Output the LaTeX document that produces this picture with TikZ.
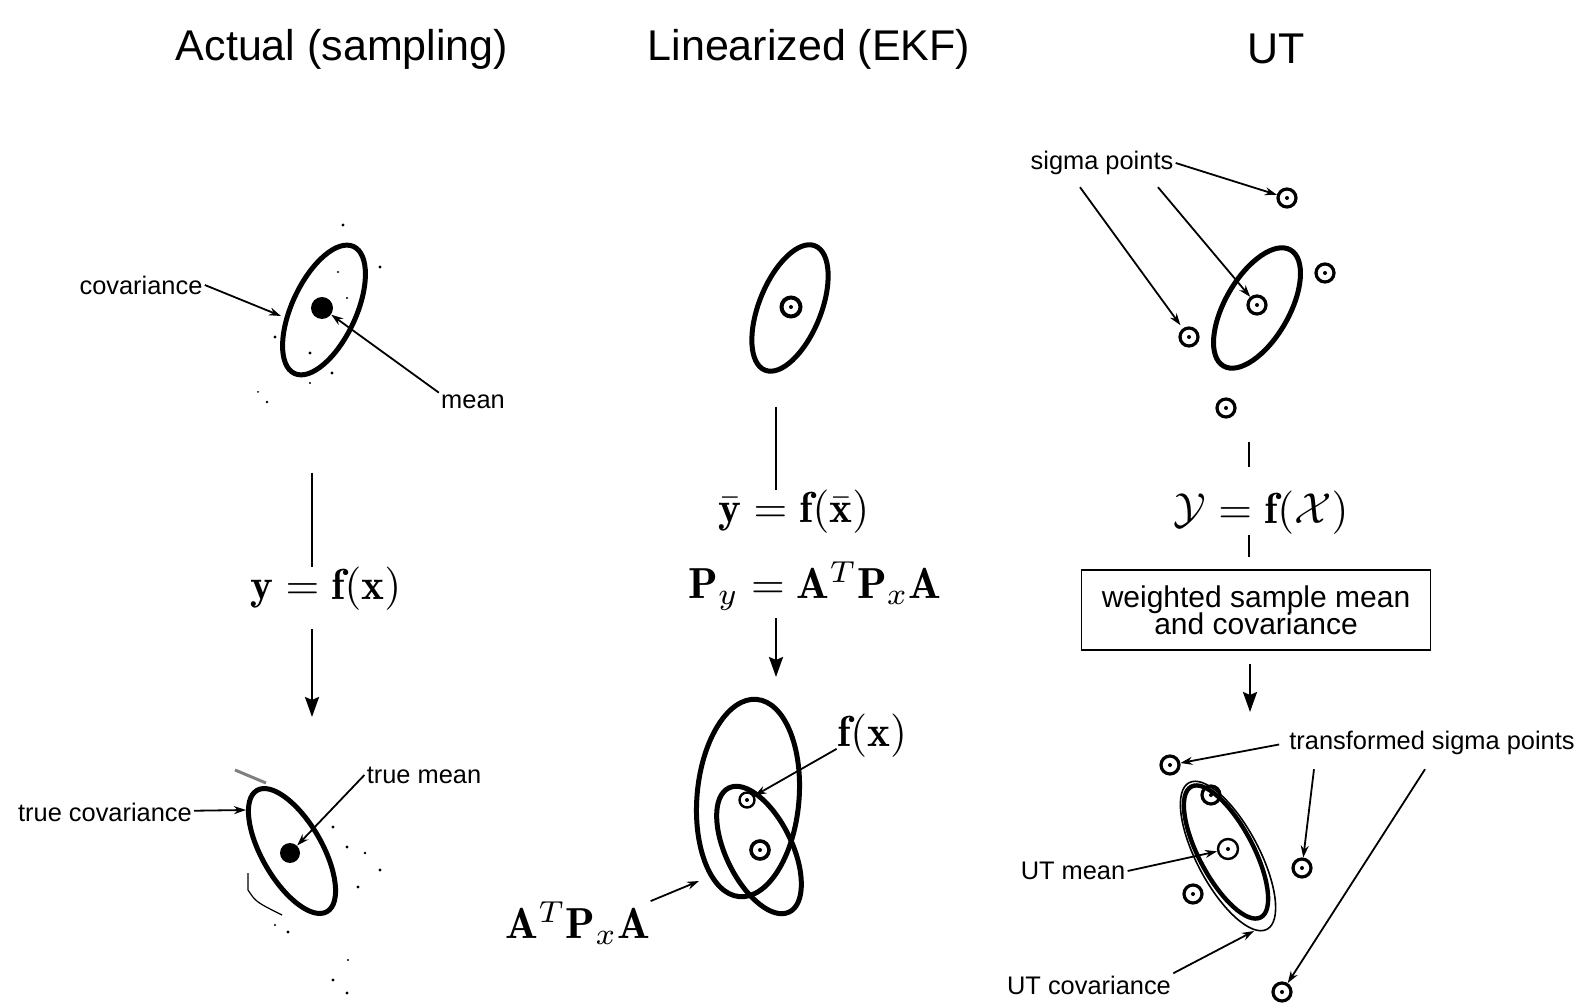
\RequirePackage{fix-cm}
\documentclass[tikz,border=0pt]{standalone}
\usepackage{amsmath,amssymb}
\usepackage{fontspec}
\usepackage{tikz}
\usetikzlibrary{arrows.meta}
\newfontfamily\helv{Liberation Sans}
\newcommand{\ttlf}{\helv\fontsize{21.5}{26}\selectfont}
\newcommand{\lblf}{\helv\fontsize{12.7}{15}\selectfont}
\newcommand{\boxf}{\helv\fontsize{15}{12.5}\selectfont}
\newcommand{\eqs}[1]{\scalebox{2.17}{$#1$}}

\begin{document}
\begin{tikzpicture}[x=0.5pt,y=-0.5pt,>={Stealth[length=6pt,width=4pt]},
cov/.style={line width=2.5pt},
ann/.style={->,line width=0.9pt},
flow/.style={-{Stealth[length=10pt,width=7pt,inset=1.5pt]},line width=1.2pt},
sigpt/.style={circle,draw,line width=1.6pt,minimum size=9pt,inner sep=0pt,
  path picture={\fill (path picture bounding box.center) circle (1pt);}},
meandot/.style={circle,fill,minimum size=11pt,inner sep=0pt},
lab/.style={font=\lblf,inner sep=1pt},
eqn/.style={inner sep=0pt}]
\useasboundingbox (0,0) rectangle (1579,1004);

\node[font=\ttlf] (actual) at (342,49) {Actual (sampling)};
\node[font=\ttlf] (linear) at (809,49) {Linearized (EKF)};
\node[font=\ttlf] (ut) at (1276,49) {UT};

% actual
\draw[cov,rotate around={65:(324,310)}] (324,310) ellipse [x radius=70,y radius=32];
\node[meandot] (m1) at (322,308) {};
\node[lab] (cov1) at (141,285) {covariance};
\coordinate (c1) at (281,316);
\draw[ann] (cov1.east) -- (c1);
\node[lab] (mean1) at (473,402) {mean};
\draw[ann] (mean1.north west) -- (m1);
\fill (343,225) circle (0.8pt) (380,267) circle (0.8pt) (338,272) circle (0.6pt)
(310,353) circle (0.8pt) (332,373) circle (0.8pt) (310,383) circle (0.6pt)
(267,402) circle (0.7pt) (258,392) circle (0.5pt) (275,337) circle (0.8pt)
(347,298) circle (0.6pt);
\coordinate (top1) at (312,473);
\node[eqn] (eq1) at (326,589) {\eqs{\mathbf{y}=\mathbf{f}(\mathbf{x})}};
\coordinate (bot1) at (312,717);
\draw[line width=1.2pt] (top1) -- (top1 |- eq1.north);
\draw[flow,shorten <=9pt] (top1 |- eq1.south) -- (bot1);
\draw[cov,rotate around={-60:(292,851)}] (292,851) ellipse [x radius=70,y radius=30];
\node[meandot,minimum size=10pt] (m4) at (290,853) {};
\node[lab] (tcov) at (105,812) {true covariance};
\coordinate (c4) at (246,810);
\draw[ann] (tcov) -- (c4);
\node[lab] (tmean) at (424,775) {true mean};
\draw[ann] (tmean.west) -- (m4);
\fill (333,827) circle (0.8pt) (347,847) circle (0.8pt) (365,853) circle (0.7pt)
(380,870) circle (0.8pt) (358,887) circle (0.8pt) (348,960) circle (0.6pt)
(333,980) circle (0.8pt) (347,993) circle (0.8pt) (288,932) circle (0.8pt)
(275,925) circle (0.6pt);
\draw[line width=0.6pt] (248,873) -- (248,890) .. controls (256,902) .. (282,915);
\draw[gray,line width=1.5pt] (235,770) -- (266,783);

% linearized
\draw[cov,rotate around={68:(790,308)}] (790,308) ellipse [x radius=67,y radius=31];
\node[sigpt,line width=2pt,minimum size=9.5pt] (s2) at (791,307) {};
\coordinate (top2) at (776,407);
\node[eqn] (eq2a) at (794,512) {\eqs{\bar{\mathbf{y}}=\mathbf{f}(\bar{\mathbf{x}})}};
\node[eqn] (eq2b) at (815,586) {\eqs{\mathbf{P}_y=\mathbf{A}^T\mathbf{P}_x\mathbf{A}}};
\coordinate (bot2) at (776,677);
\draw[line width=1.2pt] (top2) -- (top2 |- eq2a.north);
\draw[flow,shorten <=3.5pt] (top2 |- eq2b.south) -- (bot2);
\draw[cov,rotate around={85:(748,798)}] (748,798) ellipse [x radius=99,y radius=51];
\draw[cov,rotate around={-64:(759,850)}] (759,850) ellipse [x radius=69,y radius=33];
\node[sigpt,line width=1.2pt,minimum size=7.5pt] (fx) at (747,800) {};
\node[sigpt,line width=1.8pt,minimum size=9pt] (m6) at (760,850) {};
\node[eqn] (fxl) at (872,736) {\eqs{\mathbf{f}(\mathbf{x})}};
\draw[ann] (fxl.200) -- (fx);
\node[eqn] (atpa) at (578,923) {\eqs{\mathbf{A}^T\mathbf{P}_x\mathbf{A}}};
\coordinate (c5) at (699,881);
\draw[ann] (atpa.north east) -- (c5);

% UT
\draw[cov,rotate around={60:(1257,308)}] (1257,308) ellipse [x radius=67,y radius=32];
\node[sigpt] (r0) at (1257,305) {};
\node[sigpt] (r1) at (1287,198) {};
\node[sigpt] (r2) at (1189,337) {};
\node[sigpt] (r3) at (1325,273) {};
\node[sigpt] (r4) at (1226,408) {};
\node[lab] (sigl) at (1102,163) {sigma points};
\draw[ann] (sigl.east) -- (r1);
\draw[ann,shorten >=2pt] ([xshift=-11pt,yshift=-5pt]sigl.south) -- (r2);
\draw[ann] ([xshift=28pt,yshift=-5pt]sigl.south) -- (r0);
\coordinate (top3) at (1249,442);
\node[eqn] (eq3) at (1261,513) {\eqs{\mathcal{Y}=\mathbf{f}(\mathcal{X})}};
\node[draw,line width=0.8pt,font=\boxf,align=center,minimum width=174.5pt,
  minimum height=40pt,inner sep=0pt] (wbox) at (1256,610) {weighted sample mean\\[-1.5pt]and covariance};
\coordinate (bot3) at (1250,712);
\draw[line width=1.2pt,shorten >=12pt] (top3) -- (top3 |- eq3.north);
\draw[line width=1.2pt,shorten >=6pt] (top3 |- eq3.south) -- (top3 |- wbox.north);
\draw[flow,shorten <=6.5pt] (bot3 |- wbox.south) -- (bot3);
\draw[line width=0.8pt,rotate around={-62:(1228,856)}] (1228,856) ellipse [x radius=83,y radius=31];
\draw[line width=2.2pt,rotate around={-62:(1226,852)}] (1226,852) ellipse [x radius=74,y radius=27];
\node[sigpt,line width=1.2pt,minimum size=10pt] (t0) at (1228,849) {};
\node[sigpt] (t1) at (1170,765) {};
\node[sigpt] (t2) at (1211,795) {};
\node[sigpt] (t3) at (1193,894) {};
\node[sigpt] (t4) at (1302,868) {};
\node[sigpt] (t5) at (1282,992) {};
\node[lab] (tsig) at (1432,743) {transformed sigma points};
\draw[ann,shorten <=4pt] (tsig.west) -- (t1);
\draw[ann] ([xshift=-59pt,yshift=-6pt]tsig.south) -- (t4);
\draw[ann] ([xshift=-3.5pt,yshift=-6pt]tsig.south) -- (t5);
\node[lab] (utm) at (1073,871) {UT mean};
\draw[ann] (utm.east) -- (t0);
\node[lab] (utc) at (1089,985) {UT covariance};
\coordinate (c8) at (1254,931);
\draw[ann] (utc.north east) -- (c8);
\end{tikzpicture}
\end{document}
